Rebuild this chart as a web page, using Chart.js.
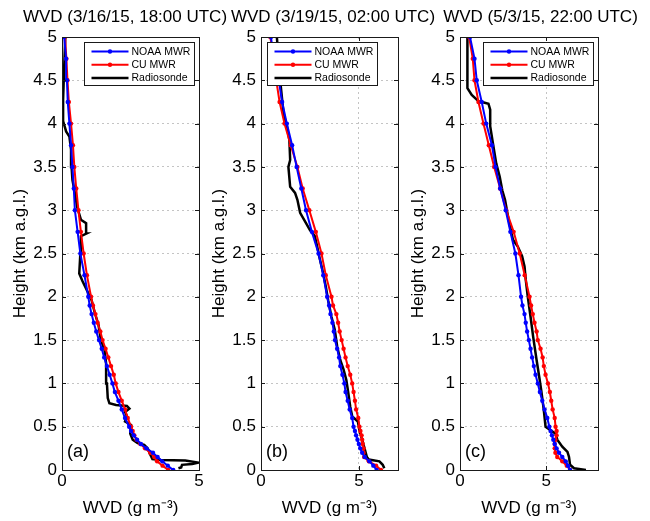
<!DOCTYPE html>
<html>
<head>
<meta charset="utf-8">
<script src="https://cdn.jsdelivr.net/npm/chart.js@4.4.1/dist/chart.umd.min.js"></script>
<style>
  html, body { margin: 0; padding: 0; background: #fff; overflow: hidden; }
  #wrap { position: relative; width: 650px; height: 521px; overflow: hidden; }
  #wrap canvas { position: absolute; left: 0; top: 0; }
</style>
</head>
<body>
<div id="wrap">
  <canvas id="panel-a" width="650" height="521"></canvas>
  <canvas id="panel-b" width="650" height="521"></canvas>
  <canvas id="panel-c" width="700" height="521"></canvas>
</div>
<script>
// ── Data (WVD in g m^-3, height in km a.g.l.) ─────────────────────────────

const mwrHeights = [0, 0.05, 0.1, 0.15, 0.2, 0.25, 0.3, 0.35, 0.4, 0.45, 0.5,
  0.6, 0.7, 0.8, 0.9, 1.0, 1.1, 1.2, 1.3, 1.4, 1.5, 1.6, 1.7, 1.8, 1.9, 2.0,
  2.25, 2.5, 2.75, 3.0, 3.25, 3.5, 3.75, 4.0, 4.25, 4.5, 4.75, 5.0];

// (a) 3/16/15 18:00 UTC
const noaaA = [4.06, 3.86, 3.66, 3.49, 3.32, 3.08, 2.88, 2.74, 2.62, 2.52, 2.45,
  2.30, 2.18, 2.06, 1.93, 1.84, 1.74, 1.64, 1.54, 1.45, 1.35, 1.25, 1.16, 1.08, 1.01, 0.96,
  0.82, 0.67, 0.57, 0.47, 0.43, 0.38, 0.33, 0.27, 0.21, 0.18, 0.15, 0.08];
const cuA = [3.88, 3.67, 3.47, 3.37, 3.22, 3.03, 2.86, 2.72, 2.64, 2.58, 2.52,
  2.40, 2.30, 2.18, 2.06, 1.96, 1.89, 1.79, 1.69, 1.59, 1.48, 1.40, 1.30, 1.22, 1.13, 1.06,
  0.91, 0.79, 0.69, 0.60, 0.52, 0.45, 0.40, 0.33, 0.25, 0.20, 0.16, 0.11];
const sondeAx = [4.25, 4.35, 4.38, 4.75, 4.97, 4.5, 3.6, 3.3, 3.19, 3.13, 3.00, 2.76, 2.58, 2.49,
  2.52, 2.30, 2.37, 2.30, 2.46, 2.37, 1.97, 1.73, 1.67, 1.64, 1.61, 1.55, 1.42, 1.33, 1.20,
  1.08, 0.96, 0.75, 0.63, 0.67, 0.69, 0.89, 0.88, 0.69, 0.55, 0.47, 0.38, 0.35, 0.33, 0.27,
  0.15, 0.04, 0.04, 0.08, 0.12];
const sondeAh = [0.02, 0.03, 0.06, 0.07, 0.085, 0.11, 0.115, 0.125, 0.2, 0.25, 0.29, 0.31, 0.35, 0.42,
  0.52, 0.56, 0.62, 0.67, 0.71, 0.74, 0.75, 0.77, 0.83, 1.0, 1.23, 1.39, 1.50, 1.68, 1.81,
  1.96, 2.04, 2.18, 2.27, 2.50, 2.70, 2.73, 2.85, 2.89, 3.04, 3.2, 3.35, 3.5, 3.70, 3.85,
  3.91, 4.03, 4.28, 4.66, 5.0];

// (b) 3/19/15 02:00 UTC
const noaaB = [5.91, 5.74, 5.54, 5.30, 5.17, 5.07, 5.00, 4.93, 4.86, 4.80, 4.73,
  4.66, 4.53, 4.43, 4.32, 4.26, 4.16, 4.05, 3.99, 3.89, 3.78, 3.72, 3.65, 3.55, 3.48, 3.38,
  3.18, 2.94, 2.60, 2.30, 2.06, 1.82, 1.59, 1.32, 1.08, 0.91, 0.64, 0.51];
const cuB = [6.13, 5.88, 5.51, 5.27, 5.24, 5.24, 5.20, 5.17, 5.14, 5.08, 5.03,
  4.97, 4.86, 4.80, 4.73, 4.66, 4.56, 4.43, 4.32, 4.22, 4.12, 4.02, 3.94, 3.85, 3.68, 3.60,
  3.31, 3.09, 2.80, 2.47, 2.13, 1.86, 1.52, 1.20, 0.95, 0.78, 0.68, 0.47];
const sondeBx = [6.30, 6.22, 6.05, 5.51, 5.41, 5.29, 5.17, 5.03, 4.95, 4.66, 4.56, 4.46, 4.36,
  4.22, 4.05, 3.89, 3.77, 3.60, 3.43, 3.31, 3.18, 2.97, 2.87, 2.75, 2.50, 2.30, 2.00, 1.86,
  1.74, 1.49, 1.40, 1.49, 1.45, 1.32, 1.15, 0.98, 0.90, 0.81];
const sondeBh = [0.02, 0.06, 0.10, 0.12, 0.15, 0.25, 0.35, 0.46, 0.56, 0.62, 0.73, 0.89, 1.04,
  1.16, 1.27, 1.43, 1.62, 1.77, 1.96, 2.12, 2.27, 2.47, 2.58, 2.70, 2.77, 2.85, 2.97, 3.12,
  3.2, 3.27, 3.5, 3.58, 3.81, 3.97, 4.12, 4.5, 4.74, 5.0];

// (c) 5/3/15 22:00 UTC
const noaaC = [6.38, 6.26, 6.13, 5.93, 5.74, 5.60, 5.49, 5.41, 5.33, 5.25, 5.18,
  5.06, 4.90, 4.77, 4.63, 4.51, 4.38, 4.28, 4.18, 4.09, 3.99, 3.89, 3.81, 3.74, 3.62, 3.54,
  3.39, 3.21, 2.92, 2.65, 2.33, 2.06, 1.85, 1.52, 1.26, 0.97, 0.84, 0.58];
const cuC = [6.38, 6.19, 5.93, 5.64, 5.53, 5.49, 5.49, 5.53, 5.60, 5.60, 5.54,
  5.49, 5.37, 5.29, 5.21, 5.10, 4.96, 4.86, 4.79, 4.67, 4.51, 4.44, 4.32, 4.22, 4.12, 4.03,
  3.75, 3.46, 3.11, 2.68, 2.33, 1.98, 1.67, 1.36, 1.07, 0.84, 0.74, 0.53];
const sondeCx = [7.30, 6.61, 6.38, 6.32, 6.23, 5.93, 5.64, 5.54, 5.25, 4.96, 4.86, 4.71, 4.59,
  4.44, 4.24, 4.09, 3.93, 3.81, 3.74, 3.60, 3.35, 3.07, 2.82, 2.61, 2.45, 2.30, 2.10, 1.91,
  1.75, 1.75, 1.65, 1.07, 0.68, 0.43, 0.43, 0.43];
const sondeCh = [0.0, 0.02, 0.06, 0.15, 0.21, 0.27, 0.35, 0.42, 0.46, 0.50, 0.69, 0.92, 1.08,
  1.27, 1.54, 1.77, 2.0, 2.20, 2.35, 2.47, 2.58, 2.66, 2.89, 3.12, 3.23, 3.39, 3.54, 3.77,
  3.97, 4.16, 4.23, 4.26, 4.33, 4.41, 4.66, 5.0];

const titles = ["WVD (3/16/15, 18:00 UTC)", "WVD (3/19/15, 02:00 UTC)", "WVD (5/3/15, 22:00 UTC)"];
const panelTags = ["(a)", "(b)", "(c)"];
const seriesNames = ["NOAA MWR", "CU MWR", "Radiosonde"];
const wvdMax = [5, 7, 8];
const wvdTicks = [0, 5];
const heightTicks = [0, 0.5, 1, 1.5, 2, 2.5, 3, 3.5, 4, 4.5, 5];

// ── Layout ─────────────────────────────────────────────────────────────────

const FONT = '"Liberation Sans", Arial, Helvetica, sans-serif';
const AXIS_W = 52;
const plotLeft  = [62, 261, 460];
const plotRight = [199, 398, 598];
const spacerW   = [41, 59, 75];   // right spacer width, nudges each title
const legendDx  = [22, 6, 23];

Chart.defaults.font.family = FONT;
Chart.defaults.color = "#000";

function pts(xs, hs) { return xs.map((x, i) => ({ x, y: hs[i] })); }

// ── Plugins ────────────────────────────────────────────────────────────────

const framePlugin = {
  id: "frame",
  afterDatasetsDraw(chart) {
    const { ctx, chartArea: a, scales } = chart;
    ctx.save();
    ctx.strokeStyle = "#1a1a1a";
    ctx.lineWidth = 1;
    ctx.beginPath();
    scales.x.ticks.forEach(t => {
      const px = Math.round(scales.x.getPixelForValue(t.value)) + 0.5;
      ctx.moveTo(px, a.bottom); ctx.lineTo(px, a.bottom - 4);
      ctx.moveTo(px, a.top); ctx.lineTo(px, a.top + 4);
    });
    scales.y.ticks.forEach(t => {
      const py = Math.round(scales.y.getPixelForValue(t.value)) + 0.5;
      ctx.moveTo(a.left, py); ctx.lineTo(a.left + 4, py);
      ctx.moveTo(a.right, py); ctx.lineTo(a.right - 4, py);
    });
    ctx.stroke();
    ctx.strokeRect(Math.round(a.left) + 0.5, Math.round(a.top) + 0.5,
                   Math.round(a.right - a.left), Math.round(a.bottom - a.top));
    ctx.restore();
  },
};

const boxLegend = {
  id: "boxLegend",
  afterDatasetsDraw(chart, args, opts) {
    const { ctx, chartArea: a } = chart;
    const x = Math.round(a.left + opts.dx) + 0.5, y = Math.round(a.top + 5) + 0.5;
    const w = 110, h = 43;
    ctx.save();
    ctx.fillStyle = "#fff";
    ctx.fillRect(x, y, w, h);
    ctx.strokeStyle = "#1a1a1a";
    ctx.lineWidth = 1;
    ctx.strokeRect(x, y, w, h);
    ctx.font = `10.5px ${FONT}`;
    ctx.textBaseline = "middle";
    chart.data.datasets.forEach((ds, i) => {
      const ly = y + 9 + i * 13.2;
      ctx.strokeStyle = ds.borderColor;
      ctx.lineWidth = ds.borderWidth;
      ctx.beginPath();
      ctx.moveTo(x + 7, ly);
      ctx.lineTo(x + 44, ly);
      ctx.stroke();
      if (ds.pointRadius > 0) {
        ctx.fillStyle = ds.borderColor;
        ctx.beginPath();
        ctx.arc(x + 25.5, ly, ds.pointRadius, 0, Math.PI * 2);
        ctx.fill();
      }
      ctx.fillStyle = "#000";
      ctx.fillText(ds.label, x + 47, ly + 0.5);
    });
    ctx.restore();
  },
};

const panelTag = {
  id: "panelTag",
  afterDatasetsDraw(chart, args, opts) {
    const { ctx, chartArea: a } = chart;
    ctx.save();
    ctx.font = `18px ${FONT}`;
    ctx.fillStyle = "#000";
    ctx.textBaseline = "middle";
    ctx.fillText(opts.text, a.left + 5, a.bottom - 18);
    ctx.restore();
  },
};

// ── Charts ─────────────────────────────────────────────────────────────────

function mwrSet(label, color, xs) {
  return {
    label, data: pts(xs, mwrHeights),
    borderColor: color, backgroundColor: color,
    borderWidth: 2, pointRadius: 2.2, pointBorderWidth: 0,
    pointBackgroundColor: color, showLine: true, tension: 0,
  };
}

function sondeSet(xs, hs) {
  return {
    label: seriesNames[2], data: pts(xs, hs),
    borderColor: "#000", backgroundColor: "#000",
    borderWidth: 2.5, pointRadius: 0, showLine: true, tension: 0,
  };
}

function mkPanel(i, noaa, cu, sx, sh) {
  const canvas = document.getElementById(["panel-a", "panel-b", "panel-c"][i]);
  const tickFont = { size: 17, family: FONT };
  return new Chart(canvas.getContext("2d"), {
    type: "scatter",
    data: {
      datasets: [
        mwrSet(seriesNames[0], "#0000ff", noaa),
        mwrSet(seriesNames[1], "#ff0000", cu),
        sondeSet(sx, sh),
      ],
    },
    options: {
      responsive: false,
      animation: false,
      devicePixelRatio: 1,
      events: [],
      layout: {
        padding: { left: plotLeft[i] - AXIS_W, right: canvas.width - plotRight[i] - spacerW[i], top: 0, bottom: 0 },
      },
      plugins: {
        legend: { display: false },
        tooltip: { enabled: false },
        title: {
          display: true, text: titles[i], color: "#000",
          font: { size: 17, weight: "normal", family: FONT },
          padding: { top: 7.6, bottom: 9 },
        },
        boxLegend: { dx: legendDx[i] },
        panelTag: { text: panelTags[i] },
      },
      scales: {
        x: {
          type: "linear", min: 0, max: wvdMax[i],
          afterBuildTicks: s => { s.ticks = wvdTicks.map(v => ({ value: v })); },
          afterFit: s => { s.height = 51; },
          ticks: { font: tickFont, padding: 1, color: "#000", callback: v => String(v) },
          grid: { color: "#c4c4c4", drawTicks: false },
          border: { display: false, dash: [2, 3] },
          title: {
            display: true, text: "WVD (g m⁻³)", color: "#000",
            font: { size: 17, family: FONT }, padding: { top: 0, bottom: 2 },
          },
        },
        y: {
          type: "linear", min: 0, max: 5,
          afterBuildTicks: s => { s.ticks = heightTicks.map(v => ({ value: v })); },
          afterFit: s => { s.width = AXIS_W; },
          ticks: { font: tickFont, padding: 5, color: "#000", callback: v => String(v) },
          grid: { color: "#c4c4c4", drawTicks: false },
          border: { display: false, dash: [2, 3] },
          title: {
            display: true, text: "Height (km a.g.l.)", color: "#000",
            font: { size: 17, family: FONT }, padding: 0,
          },
        },
        // empty spacer on the right, sized so each title sits where it should
        yr: {
          type: "linear", position: "right", min: 0, max: 5,
          afterFit: s => { s.width = spacerW[i]; },
          ticks: { display: false },
          grid: { display: false },
          border: { display: false },
        },
      },
    },
    plugins: [framePlugin, boxLegend, panelTag],
  });
}

mkPanel(0, noaaA, cuA, sondeAx, sondeAh);
mkPanel(1, noaaB, cuB, sondeBx, sondeBh);
mkPanel(2, noaaC, cuC, sondeCx, sondeCh);
</script>
</body>
</html>
